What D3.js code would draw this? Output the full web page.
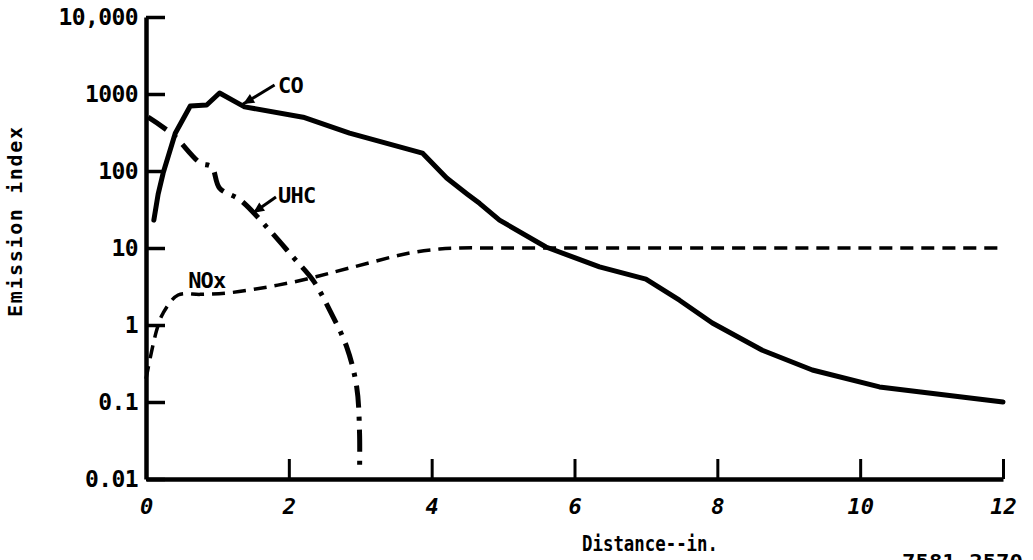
<!DOCTYPE html>
<html>
<head>
<meta charset="utf-8">
<script src="https://cdn.jsdelivr.net/npm/d3@7"></script>
<style>
  html, body { margin: 0; padding: 0; background: #fff; }
  svg { display: block; }
  text { font-family: "DejaVu Sans Mono", monospace; font-weight: bold; fill: #000; }
</style>
</head>
<body>
<svg id="chart" width="1033" height="560"></svg>
<script>
// ---- data ----
const coX  = [0.11, 0.17, 0.24, 0.41, 0.62, 0.85, 1.03, 1.38, 2.2, 2.85, 3.87, 4.21, 4.5, 4.67, 4.95, 5.6, 6.35, 7.0, 7.47, 7.93, 8.63, 9.33, 10.27, 12];
const coY  = [23, 50, 94, 309, 700, 720, 1030, 680, 500, 310, 171, 81, 50, 38, 23, 10.3, 5.7, 3.95, 2.1, 1.06, 0.47, 0.26, 0.157, 0.1];

const uhcX = [0.03, 0.38, 0.76, 0.92, 1.03, 1.32, 1.69, 2.06, 2.34, 2.57, 2.81, 2.95, 2.99, 2.99];
const uhcY = [500, 294, 127, 113, 60, 42, 18.7, 7.6, 3.8, 1.57, 0.52, 0.157, 0.04, 0.012];

const noxX = [0, 0.15, 0.24, 0.45, 0.76, 1.13, 1.69, 2.25, 2.85, 3.69, 4.11, 4.4, 5, 12];
const noxY = [0.2, 0.86, 1.43, 2.45, 2.5, 2.6, 3.1, 3.95, 5.5, 8.6, 9.7, 10, 10, 10];

const xTicks = [0, 2, 4, 6, 8, 10, 12];
const yTicks = [10000, 1000, 100, 10, 1, 0.1, 0.01];
const yTickLabels = ["10,000", "1000", "100", "10", "1", "0.1", "0.01"];

// annotation anchors (data space)
const seriesNames = ["CO", "UHC", "NOx"];
const annoLabel = [[1.85, 1030], [1.85, 38], [0.59, 3.03]];
const annoArrow = [[1.80, 1310, 1.36, 740], [1.82, 46, 1.50, 28.5], null];

const xTitle = "Distance--in.";
const yTitle = "Emission index";
const figNote = "7581-2570";

// ---- scales ----
const svg = d3.select("#chart");
const x = d3.scaleLinear().domain([0, 12]).range([146, 1003]);
const y = d3.scaleLog().domain([0.01, 10000]).range([479, 17]);

// ---- axes ----
const yAxis = d3.axisLeft(y).tickValues(yTicks)
  .tickFormat((d, i) => yTickLabels[i]).tickSizeInner(-19).tickSizeOuter(0).tickPadding(8);
const gy = svg.append("g").attr("transform", `translate(${x(0)},0)`).call(yAxis);
gy.select(".domain").attr("stroke", "#000").attr("stroke-width", 4.5);
gy.selectAll(".tick line").attr("stroke", "#000").attr("stroke-width", 3.5);
gy.selectAll(".tick text").attr("font-size", 23).attr("letter-spacing", -0.6)
  .attr("font-family", "DejaVu Sans Mono").attr("font-weight", "bold");

const xAxis = d3.axisBottom(x).tickValues(xTicks).tickFormat(d3.format("d"))
  .tickSizeInner(-20).tickSizeOuter(0).tickPadding(19);
const gx = svg.append("g").attr("transform", `translate(0,${y(0.01)})`).call(xAxis);
gx.select(".domain").attr("stroke", "#000").attr("stroke-width", 4.5);
gx.selectAll(".tick line").attr("stroke", "#000").attr("stroke-width", 3)
  .attr("opacity", d => d === 0 ? 0 : 1);
gx.selectAll(".tick text").attr("font-size", 22).attr("font-style", "italic")
  .attr("font-family", "DejaVu Sans Mono").attr("font-weight", "bold");

// ---- lines ----
const lineLin = d3.line().x(d => x(d[0])).y(d => y(d[1])).curve(d3.curveLinear);
const lineSmooth = d3.line().x(d => x(d[0])).y(d => y(d[1])).curve(d3.curveCatmullRom.alpha(0.5));

svg.append("path").datum(coX.map((v, i) => [v, coY[i]]))
  .attr("d", lineLin).attr("fill", "none").attr("stroke", "#000")
  .attr("stroke-width", 5).attr("stroke-linejoin", "round").attr("stroke-linecap", "round");

svg.append("path").datum(uhcX.map((v, i) => [v, uhcY[i]]))
  .attr("d", lineSmooth).attr("fill", "none").attr("stroke", "#000")
  .attr("stroke-width", 5).attr("stroke-dasharray", "22,9,4,9");

svg.append("path").datum(noxX.map((v, i) => [v, noxY[i]]))
  .attr("d", lineSmooth).attr("fill", "none").attr("stroke", "#000")
  .attr("stroke-width", 3.5).attr("stroke-dasharray", "13,8");

// ---- annotations ----
seriesNames.forEach((name, i) => {
  svg.append("text").attr("x", x(annoLabel[i][0])).attr("y", y(annoLabel[i][1]))
    .attr("font-size", 22).attr("letter-spacing", -0.8).text(name);
  const a = annoArrow[i];
  if (a) {
    const x1 = x(a[0]), y1 = y(a[1]), x2 = x(a[2]), y2 = y(a[3]);
    svg.append("line").attr("x1", x1).attr("y1", y1).attr("x2", x2).attr("y2", y2)
      .attr("stroke", "#000").attr("stroke-width", 3);
    const ang = Math.atan2(y2 - y1, x2 - x1);
    const L = 11, W = 5;
    const bx = x2 - L * Math.cos(ang), by = y2 - L * Math.sin(ang);
    const px = -Math.sin(ang) * W, py = Math.cos(ang) * W;
    svg.append("path").attr("d", `M${x2},${y2}L${bx + px},${by + py}L${bx - px},${by - py}Z`).attr("fill", "#000");
  }
});

// ---- titles ----
svg.append("text").attr("x", 582).attr("y", 551).attr("font-size", 21)
  .attr("textLength", 136).attr("lengthAdjust", "spacingAndGlyphs").text(xTitle);
svg.append("text").attr("transform", "translate(22,222) rotate(-90)")
  .attr("text-anchor", "middle").attr("font-size", 20)
  .attr("textLength", 190).attr("lengthAdjust", "spacing").text(yTitle);
svg.append("text").attr("x", 902).attr("y", 568).attr("font-size", 20)
  .attr("textLength", 121).attr("lengthAdjust", "spacingAndGlyphs").text(figNote);
</script>
</body>
</html>
